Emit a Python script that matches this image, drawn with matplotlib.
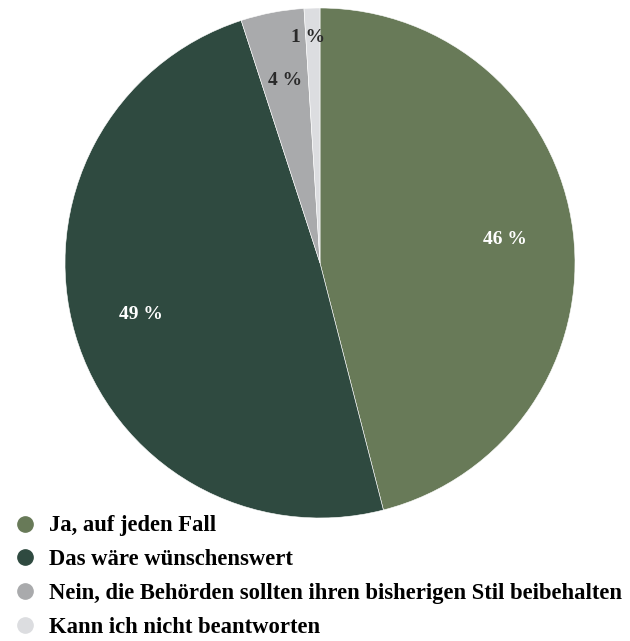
import matplotlib.pyplot as plt
from matplotlib.lines import Line2D

answers = [
    "Ja, auf jeden Fall",
    "Das wäre wünschenswert",
    "Nein, die Behörden sollten ihren bisherigen Stil beibehalten",
    "Kann ich nicht beantworten",
]
shares = [46, 49, 4, 1]
colors = ["#687a58", "#2f4a40", "#a9aaac", "#dcdde0"]
label_colors = ["white", "white", "#2a2a2a", "#2a2a2a"]

plt.rcParams["font.family"] = "Liberation Serif"

fig = plt.figure(figsize=(6.3, 6.41), dpi=100)
ax = fig.add_axes([0, 0, 1, 1])

wedges, texts = ax.pie(
    shares,
    colors=colors,
    startangle=90,
    counterclock=False,
    center=(320, 378),
    radius=255,
    labels=[f"{s} %" for s in shares],
    labeldistance=0.73,
    wedgeprops=dict(edgecolor="white", linewidth=0.4),
    textprops=dict(fontsize=14, fontweight="bold", ha="center", va="center"),
)
# pie() resets the limits, so set them afterwards
ax.set_xlim(0, 630)
ax.set_ylim(0, 641)
ax.set_aspect("equal")
ax.axis("off")

for t, c in zip(texts, label_colors):
    t.set_color(c)
# the smallest slice gets its label further out
texts[3].set_position((308, 641 - 38))

handles = [
    Line2D([], [], marker="o", linestyle="none", markersize=11,
           markerfacecolor=c, markeredgecolor=c)
    for c in colors
]
ax.legend(
    handles, answers,
    loc="upper left",
    bbox_to_anchor=(0.0, 0.217),
    frameon=False,
    prop=dict(size=16.3, weight="bold"),
    labelspacing=0.56,
    handletextpad=0.55,
    handlelength=1.0,
    borderaxespad=0.2,
)

fig.savefig("out.png", dpi=100)
